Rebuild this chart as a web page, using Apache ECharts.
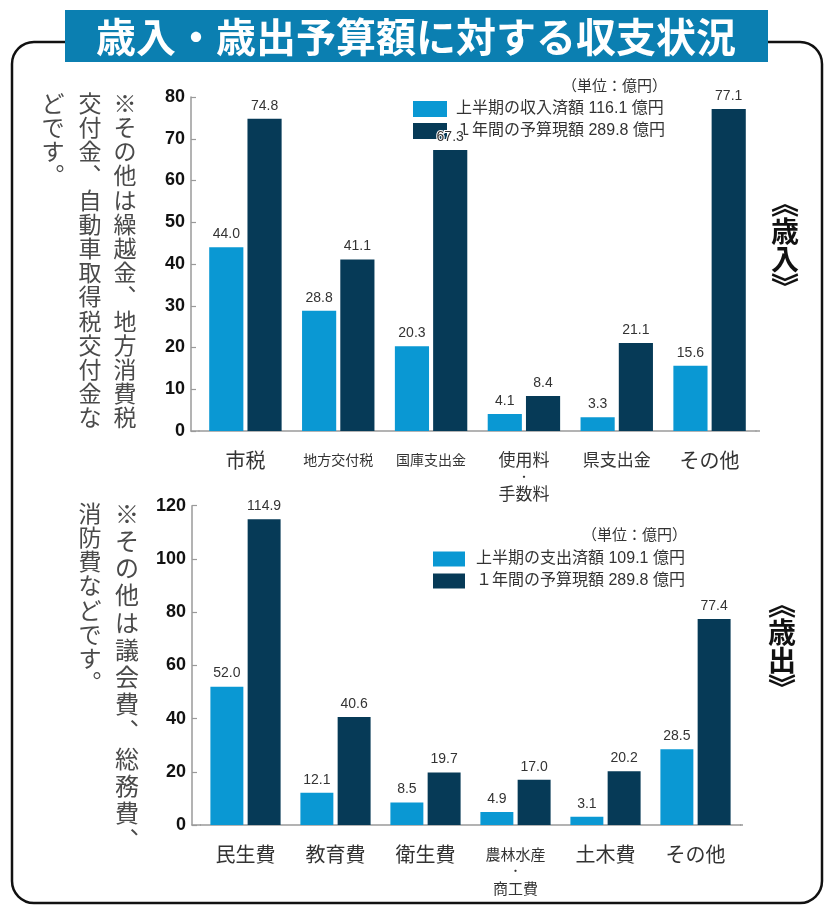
<!DOCTYPE html>
<html lang="ja">
<head>
<meta charset="utf-8">
<script src="https://cdn.jsdelivr.net/npm/echarts@6/dist/echarts.min.js"></script>
<style>
html,body{margin:0;padding:0;background:#fff;}
#c{width:827px;height:910px;}
</style>
</head>
<body>
<div id="c"></div>
<script>
// ---- data ----
const revCategories = ['市税', '地方交付税', '国庫支出金', '使用料・手数料', '県支出金', 'その他'];
const revFirstHalf = [44.0, 28.8, 20.3, 4.1, 3.3, 15.6];
const revAnnual = [74.8, 41.1, 67.3, 8.4, 21.1, 77.1];
const revAxis = { min: 0, max: 80, interval: 10 };

const expCategories = ['民生費', '教育費', '衛生費', '農林水産・商工費', '土木費', 'その他'];
const expFirstHalf = [52.0, 12.1, 8.5, 4.9, 3.1, 28.5];
const expAnnual = [114.9, 40.6, 19.7, 17.0, 20.2, 77.4];
const expAxis = { min: 0, max: 120, interval: 20 };

const legendText = {
  rev_h1: '上半期の収入済額 116.1 億円',
  rev_full: '１年間の予算現額 289.8 億円',
  exp_h1: '上半期の支出済額 109.1 億円',
  exp_full: '１年間の予算現額 289.8 億円'
};
const titleText = '歳入・歳出予算額に対する収支状況';
const unitText = '（単位：億円）';
const revNote = ['※その他は繰越金︑地方消費税', '交付金︑自動車取得税交付金な', 'どです︒'];
const expNote = ['※その他は議会費︑総務費︑', '消防費などです︒'];

// ---- styles ----
const LIGHT = '#0a98d3';
const DARK = '#063a57';
const CJK = '"Noto Sans CJK JP", sans-serif';
const LATIN = '"Liberation Sans", "Noto Sans CJK JP", sans-serif';
const NARROW = '"Liberation Sans Narrow", "Liberation Sans", sans-serif';

const labelStyleKey = {
  '市税': 'r20', '地方交付税': 'r14', '国庫支出金': 'r14', '県支出金': 'r17', 'その他': 'r20',
  '民生費': 'r20', '教育費': 'r20', '衛生費': 'r20', '土木費': 'r20'
};
function catFormatter(v) {
  if (v.indexOf('・') >= 0) {
    const parts = v.split('・');
    const k = parts[0].length >= 4 ? 'r15' : 'r17';
    return '{' + k + '|' + parts[0] + '}\n{d|・}\n{' + k + '|' + parts[1] + '}';
  }
  return '{' + (labelStyleKey[v] || 'r20') + '|' + v + '}';
}
const rich = {
  r20: { fontSize: 20, lineHeight: 20, fontFamily: CJK, color: '#333' },
  r17: { fontSize: 17, lineHeight: 20, fontFamily: CJK, color: '#333' },
  r15: { fontSize: 15, lineHeight: 20, fontFamily: CJK, color: '#333' },
  r14: { fontSize: 14, lineHeight: 20, fontFamily: CJK, color: '#333' },
  d: { fontSize: 11, lineHeight: 14, fontFamily: CJK, color: '#333' }
};

function vert(s) { return s.split('').join('\n'); }

const valueLabel = {
  show: true, position: 'top', distance: 6,
  fontSize: 14, color: '#333', fontFamily: NARROW,
  textBorderColor: '#fff', textBorderWidth: 2,
  formatter: p => Number(p.value).toFixed(1)
};

function xAxisCfg(gridIndex, cats) {
  return {
    type: 'category', gridIndex, data: cats,
    axisLine: { show: true, lineStyle: { color: '#9a9a9a', width: 1.5 } },
    axisTick: { show: false },
    axisLabel: { interval: 0, margin: 19, formatter: catFormatter, rich }
  };
}
function yAxisCfg(gridIndex, ax, offset, fs) {
  return {
    type: 'value', gridIndex, min: ax.min, max: ax.max, interval: ax.interval, offset,
    axisLine: { show: true, lineStyle: { color: '#9a9a9a', width: 1.5 } },
    axisTick: { show: true, inside: true, length: 5, lineStyle: { color: '#9a9a9a', width: 1.2 } },
    splitLine: { show: false },
    axisLabel: { margin: 6, fontSize: fs, color: '#111', fontWeight: 'bold', fontFamily: LATIN }
  };
}

const chart = echarts.init(document.getElementById('c'));
chart.setOption({
  animation: false,
  backgroundColor: '#fff',
  grid: [
    { left: 199, width: 557, top: 97, height: 334 },
    { left: 200.5, width: 540, top: 505.7, height: 319.3 }
  ],
  xAxis: [xAxisCfg(0, revCategories), xAxisCfg(1, expCategories)],
  yAxis: [yAxisCfg(0, revAxis, 8, 18), yAxisCfg(1, expAxis, 8.5, 18)],
  legend: [
    {
      data: ['rev_h1', 'rev_full'], left: 413, top: 101, orient: 'vertical', padding: 0, z: 1,
      itemWidth: 34, itemHeight: 16, itemGap: 6, icon: 'rect', selectedMode: false,
      formatter: n => legendText[n],
      textStyle: { fontSize: 16, lineHeight: 16, color: '#333', fontFamily: LATIN, padding: [0, 0, 0, 4] }
    },
    {
      data: ['exp_h1', 'exp_full'], left: 433, top: 551, orient: 'vertical', padding: 0, z: 1,
      itemWidth: 32, itemHeight: 15, itemGap: 6, icon: 'rect', selectedMode: false,
      formatter: n => legendText[n],
      textStyle: { fontSize: 16, lineHeight: 15, color: '#333', fontFamily: LATIN, padding: [0, 0, 0, 6] }
    }
  ],
  series: [
    { name: 'rev_h1', type: 'bar', xAxisIndex: 0, yAxisIndex: 0, data: revFirstHalf, z: 3,
      itemStyle: { color: LIGHT }, barGap: '12%', barCategoryGap: '22%', label: valueLabel },
    { name: 'rev_full', type: 'bar', xAxisIndex: 0, yAxisIndex: 0, data: revAnnual, z: 3,
      itemStyle: { color: DARK }, barGap: '12%', barCategoryGap: '22%', label: valueLabel },
    { name: 'exp_h1', type: 'bar', xAxisIndex: 1, yAxisIndex: 1, data: expFirstHalf, z: 3,
      itemStyle: { color: LIGHT }, barGap: '13%', barCategoryGap: '22%', label: valueLabel },
    { name: 'exp_full', type: 'bar', xAxisIndex: 1, yAxisIndex: 1, data: expAnnual, z: 3,
      itemStyle: { color: DARK }, barGap: '13%', barCategoryGap: '22%', label: valueLabel }
  ],
  graphic: [
    { type: 'rect', z: 0, shape: { x: 12, y: 42, width: 810, height: 861, r: 22 },
      style: { fill: 'none', stroke: '#111', lineWidth: 2.5 } },
    { type: 'rect', z: 5, shape: { x: 65, y: 10, width: 703, height: 52 },
      style: { fill: '#0b7fb1' } },
    { type: 'text', z: 6, style: { text: titleText, x: 416, y: 37, textAlign: 'center', textVerticalAlign: 'middle',
      fill: '#fff', fontSize: 40, fontWeight: 'bold', fontFamily: CJK } },
    // x-axis line extensions to the y-axis
    { type: 'line', z: 3, shape: { x1: 190.5, y1: 431, x2: 199.5, y2: 431 }, style: { stroke: '#9a9a9a', lineWidth: 1.5 } },
    { type: 'line', z: 3, shape: { x1: 755.5, y1: 431, x2: 760, y2: 431 }, style: { stroke: '#9a9a9a', lineWidth: 1.5 } },
    { type: 'line', z: 3, shape: { x1: 191.5, y1: 825, x2: 201, y2: 825 }, style: { stroke: '#9a9a9a', lineWidth: 1.5 } },
    { type: 'line', z: 3, shape: { x1: 740, y1: 825, x2: 743, y2: 825 }, style: { stroke: '#9a9a9a', lineWidth: 1.5 } },
    // unit texts
    { type: 'text', style: { text: unitText, x: 667, y: 85, textAlign: 'right', textVerticalAlign: 'middle',
      fill: '#333', fontSize: 15, fontFamily: CJK } },
    { type: 'text', style: { text: unitText, x: 687, y: 534, textAlign: 'right', textVerticalAlign: 'middle',
      fill: '#333', fontSize: 15, fontFamily: CJK } },
    // vertical notes (revenue)
    { type: 'text', style: { text: vert(revNote[0]), x: 125, y: 91, textAlign: 'center', textVerticalAlign: 'top',
      fill: '#4a4a4a', fontSize: 23, lineHeight: 24.2, fontFamily: CJK } },
    { type: 'text', style: { text: vert(revNote[1]), x: 90, y: 91, textAlign: 'center', textVerticalAlign: 'top',
      fill: '#4a4a4a', fontSize: 23, lineHeight: 24.2, fontFamily: CJK } },
    { type: 'text', style: { text: vert(revNote[2]), x: 53, y: 91, textAlign: 'center', textVerticalAlign: 'top',
      fill: '#4a4a4a', fontSize: 23, lineHeight: 24.2, fontFamily: CJK } },
    // vertical notes (expenditure)
    { type: 'text', style: { text: vert(expNote[0]), x: 127, y: 500, textAlign: 'center', textVerticalAlign: 'top',
      fill: '#4a4a4a', fontSize: 24, lineHeight: 27.2, fontFamily: CJK } },
    { type: 'text', style: { text: vert(expNote[1]), x: 90, y: 501, textAlign: 'center', textVerticalAlign: 'top',
      fill: '#4a4a4a', fontSize: 23, lineHeight: 24.2, fontFamily: CJK } },
    // side labels
    { type: 'text', style: { text: vert('︽歳入︾'), x: 785, y: 245, textAlign: 'center', textVerticalAlign: 'middle',
      fill: '#111', fontSize: 28, lineHeight: 28, fontWeight: 'bold', fontFamily: CJK } },
    { type: 'text', style: { text: vert('︽歳出︾'), x: 782, y: 646, textAlign: 'center', textVerticalAlign: 'middle',
      fill: '#111', fontSize: 28, lineHeight: 28, fontWeight: 'bold', fontFamily: CJK } }
  ]
});
</script>
</body>
</html>
